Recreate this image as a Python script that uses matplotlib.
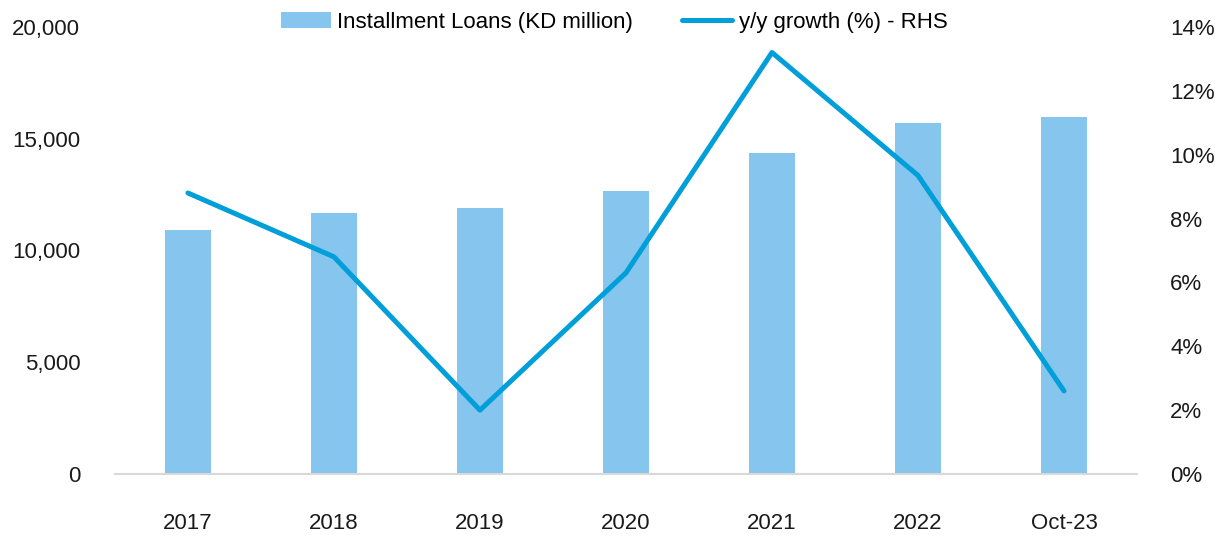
import matplotlib.pyplot as plt
import numpy as np

plt.rcParams['font.family'] = ['Liberation Sans', 'DejaVu Sans']

categorias = ['2017', '2018', '2019', '2020', '2021', '2022', 'Oct-23']
emprestimos = [10900, 11660, 11880, 12650, 14350, 15700, 15960]
crescimento = [8.8, 6.8, 2.0, 6.3, 13.2, 9.35, 2.6]

cor_barra = '#85C5EE'
cor_linha = '#009FDA'

fig = plt.figure(figsize=(12.28, 5.36), dpi=100)
ax = fig.add_axes([0.0936, 0.1157, 0.8323, 0.834])
x = np.arange(len(categorias))

ax.bar(x, emprestimos, width=0.32, color=cor_barra, label='Installment Loans (KD million)')
ax.set_ylim(0, 20000)
ax.set_xlim(-0.5, len(categorias) - 0.5)
ax.set_yticks([0, 5000, 10000, 15000, 20000])
ax.yaxis.set_major_formatter(plt.FuncFormatter(lambda v, p: f'{int(v):,}'))
ax.set_xticks(x)
ax.set_xticklabels(categorias)

ax2 = ax.twinx()
ax2.plot(x, crescimento, color=cor_linha, linewidth=3.6, solid_capstyle='round',
         label='y/y growth (%) - RHS')
ax2.set_ylim(0, 14)
ax2.set_yticks(range(0, 15, 2))
ax2.yaxis.set_major_formatter(plt.FuncFormatter(lambda v, p: f'{int(v)}%'))

for a in (ax, ax2):
    for s in a.spines.values():
        s.set_visible(False)
    a.tick_params(length=0, labelsize=16, colors='#1a1a1a')
ax.spines['bottom'].set_visible(True)
ax.spines['bottom'].set_color('#D9D9D9')
ax.spines['bottom'].set_linewidth(1.5)
ax.tick_params(axis='y', pad=25)
ax.tick_params(axis='x', pad=28)
ax2.tick_params(axis='y', pad=24)

h1, l1 = ax.get_legend_handles_labels()
h2, l2 = ax2.get_legend_handles_labels()
fig.legend(h1 + h2, l1 + l2, loc='upper center', bbox_to_anchor=(0.5, 1.015), ncol=2,
           frameon=False, fontsize=16, handlelength=2.25, handletextpad=0.3,
           columnspacing=2.2)

fig.savefig('out.png', dpi=100)
